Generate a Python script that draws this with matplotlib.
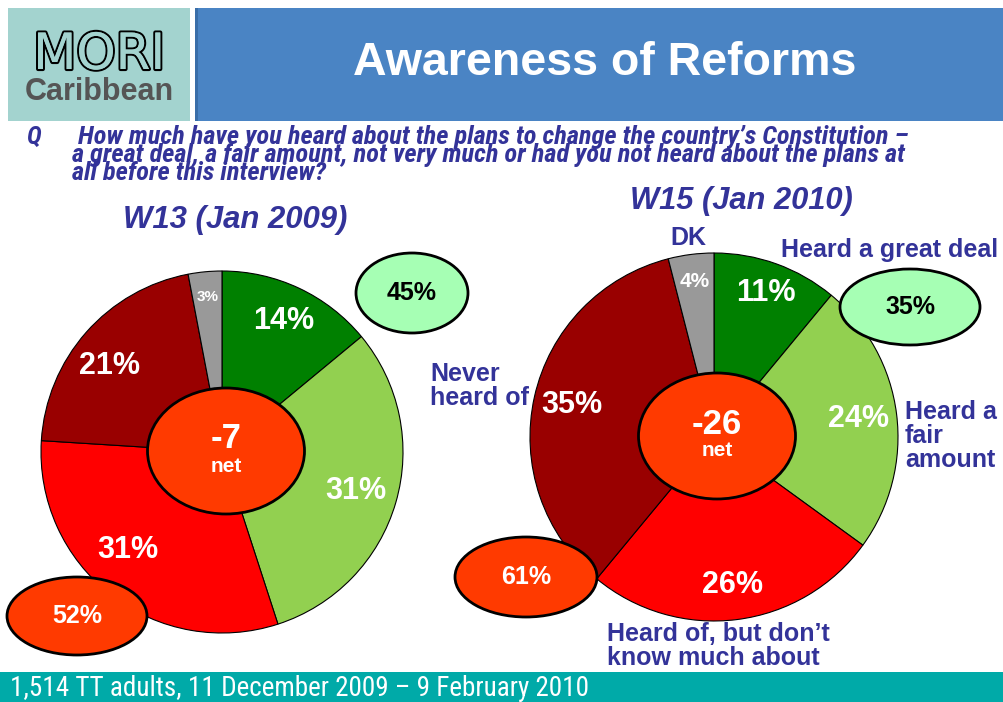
import matplotlib
matplotlib.use("Agg")
import numpy as np
import matplotlib.pyplot as plt
import matplotlib.patheffects as pe
from matplotlib.patches import Ellipse, Rectangle

# Survey results (percent), slices run clockwise from 12 o'clock
categories = ["Heard a great deal", "Heard a fair amount",
              "Heard of, but don't know much about", "Never heard of", "DK"]
w13_values = [14, 31, 31, 21, 3]
w15_values = [11, 24, 26, 35, 4]
w13_net = -7
w15_net = -26
w13_heard = 45      # great deal + fair amount
w13_not_heard = 52  # not much + never
w15_heard = 35
w15_not_heard = 61

slice_colors = ["#008000", "#92D050", "#FF0000", "#990000", "#999999"]
NAVY = "#333399"
ORANGE = "#FF3A00"
MINT = "#A6FFB4"

W, H = 1004, 702
FONT = "Liberation Sans"
NARROW = ["Roboto Condensed", "Liberation Sans Narrow", "Liberation Sans"]

fig = plt.figure(figsize=(W / 100, H / 100), dpi=100)
ax = fig.add_axes([0, 0, 1, 1])


def py(y):
    # convert top-down pixel rows into axis units
    return H - y


def draw_pie(values, cx, cy, r, label_pos, label_sizes, nudge):
    wedges, _ = ax.pie(values, colors=slice_colors, startangle=90,
                       counterclock=False, center=(cx, py(cy)), radius=r,
                       wedgeprops=dict(edgecolor="black", linewidth=0.8))
    for w, v, k, fs, dn in zip(wedges, values, label_pos, label_sizes, nudge):
        mid = np.deg2rad((w.theta1 + w.theta2) / 2 + dn)
        tx = cx + k * r * np.cos(mid)
        ty = py(cy) + k * r * np.sin(mid)
        ax.text(tx, ty, f"{v}%", ha="center", va="center", color="white",
                fontsize=fs, fontweight="bold", family=FONT, zorder=5)


def bubble(x, y, w, h, face, text, tcolor):
    ax.add_patch(Ellipse((x, py(y)), w, h, facecolor=face, edgecolor="black",
                         linewidth=2, zorder=6))
    ax.text(x, py(y), text, ha="center", va="center", color=tcolor,
            fontsize=18, fontweight="bold", family=FONT, zorder=7)


def net_disc(x, y, value):
    ax.add_patch(Ellipse((x, py(y)), 157, 126, facecolor=ORANGE,
                         edgecolor="black", linewidth=2, zorder=6))
    ax.text(x, py(y - 12), f"{value}", ha="center", va="center", color="white",
            fontsize=25, fontweight="bold", family=FONT, zorder=7)
    ax.text(x, py(y + 15), "net", ha="center", va="center", color="white",
            fontsize=15, fontweight="bold", family=FONT, zorder=7)


# header: logo block and title bar
ax.add_patch(Rectangle((8, py(121)), 182, 113, facecolor="#A3D3CF", zorder=1))
ax.add_patch(Rectangle((195, py(121)), W - 195, 113, facecolor="#4A84C4", zorder=1))
ax.add_patch(Rectangle((195, py(121)), 3, 113, facecolor="#3A6EA8", zorder=1))
ax.text(99, py(69), "MORI", ha="center", va="baseline", fontsize=36,
        family="DejaVu Sans", color="#A3D3CF", zorder=2,
        path_effects=[pe.withStroke(linewidth=3, foreground="black"),
                      pe.Normal()])
ax.text(99, py(100), "Caribbean", ha="center", va="baseline", fontsize=22,
        fontweight="bold", family=FONT, color="#555555", zorder=2)
ax.text(605, py(63), "Awareness of Reforms", ha="center", va="center",
        fontsize=33.5, fontweight="bold", family=FONT, color="white", zorder=2)

# question
ax.text(26, py(137), "Q", ha="left", va="center", fontsize=18,
        fontweight="bold", style="italic", family=NARROW, color=NAVY)
ax.text(72, py(155),
        " How much have you heard about the plans to change the country\u2019s Constitution \u2013\n"
        "a great deal, a fair amount, not very much or had you not heard about the plans at\n"
        "all before this interview?",
        ha="left", va="center", fontsize=19, fontweight="bold", style="italic",
        family=NARROW, color=NAVY, linespacing=0.66)

# wave titles
ax.text(235, py(220), "W13 (Jan 2009)", ha="center", va="center", fontsize=22.4,
        fontweight="bold", style="italic", family=FONT, color=NAVY)
ax.text(741, py(201), "W15 (Jan 2010)", ha="center", va="center", fontsize=22.2,
        fontweight="bold", style="italic", family=FONT, color=NAVY)

# pies
draw_pie(w13_values, 222, 452, 181, [0.8, 0.77, 0.75, 0.78, 0.86],
         [22, 22, 22, 22, 11], [0, 0, -6, 4, 0])
draw_pie(w15_values, 714, 437, 184, [0.83, 0.79, 0.81, 0.79, 0.85],
         [22, 22, 22, 22, 15], [0, 0, 0, 0, 0])

net_disc(226, 451, w13_net)
net_disc(717, 436, w15_net)

bubble(412, 293, 112, 80, MINT, f"{w13_heard}%", "black")
bubble(77, 616, 140, 78, ORANGE, f"{w13_not_heard}%", "white")
bubble(910, 307, 140, 76, MINT, f"{w15_heard}%", "black")
bubble(526, 577, 142, 80, ORANGE, f"{w15_not_heard}%", "white")

# category labels around the second pie
lab = dict(fontsize=18, fontweight="bold", family=FONT, color=NAVY,
           linespacing=1.0, zorder=8)
ax.text(688, py(238), "DK", ha="center", va="center", **lab)
ax.text(890, py(250), categories[0], ha="center", va="center", **lab)
ax.text(430, py(386), "Never\nheard of", ha="left", va="center", **lab)
ax.text(905, py(436), "Heard a\nfair\namount", ha="left", va="center", **lab)
ax.text(607, py(646), "Heard of, but don\u2019t\nknow much about",
        ha="left", va="center", **lab)

# footer
ax.add_patch(Rectangle((0, 0), W, py(672), facecolor="#00AAA8", zorder=1))
ax.text(10, py(689), "1,514 TT adults, 11 December 2009 \u2013 9 February 2010",
        ha="left", va="center", fontsize=19.5, family=NARROW, color="white", zorder=2)

ax.set_xlim(0, W)
ax.set_ylim(0, H)
ax.set_aspect("auto")
ax.axis("off")

fig.savefig("out.png", dpi=100, facecolor="white")
